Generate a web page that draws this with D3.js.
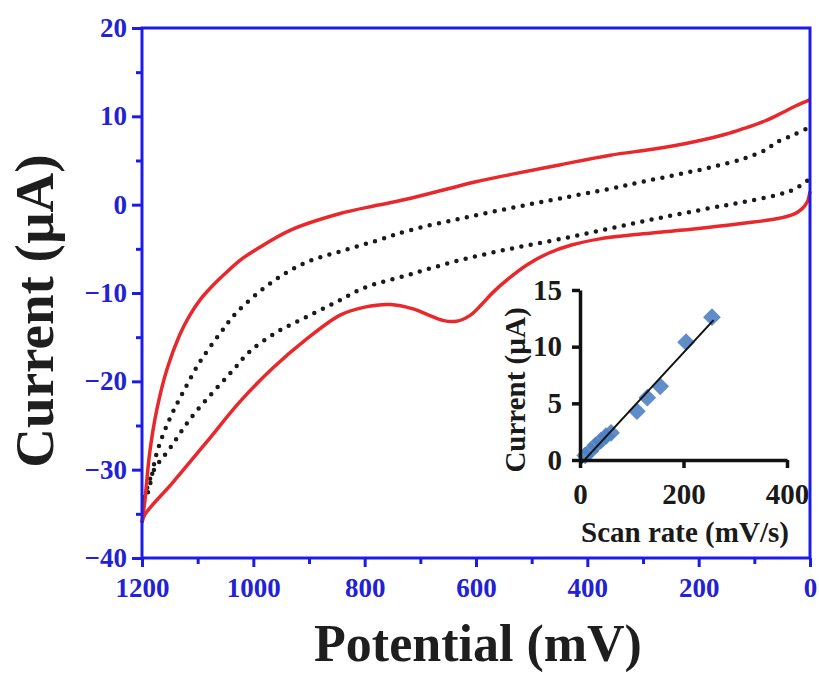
<!DOCTYPE html>
<html>
<head>
<meta charset="utf-8">
<script src="https://cdn.jsdelivr.net/npm/d3@7"></script>
<style>
  body { margin: 0; background: #fff; }
  svg text { font-family: "Liberation Serif", "Times New Roman", serif; font-weight: bold; }
</style>
</head>
<body>
<script>
// red CV, forward sweep (1200 -> 0 mV)
let redFwdE = [1200, 1195, 1186, 1173, 1155, 1132, 1114, 1096, 1075, 1054, 1024, 993, 934, 844, 780, 719, 650, 600, 539, 450, 359, 280, 210, 150, 120, 80, 50, 25, 0];
let redFwdI = [-36, -33.6, -28, -23.1, -18.6, -14.7, -12.5, -10.8, -9.3, -8.0, -6.3, -5.0, -2.9, -1.0, -0.1, 0.7, 1.8, 2.6, 3.4, 4.5, 5.6, 6.3, 7.1, 8.0, 8.6, 9.5, 10.4, 11.2, 11.9];
// red CV, reverse sweep (0 -> 1200 mV)
let redRevE = [0, 5, 15, 30, 60, 120, 200, 300, 380, 430, 470, 508, 540, 569, 590, 610, 635, 660, 685, 713, 754, 800, 844, 904, 965, 1024, 1083, 1144, 1195, 1200];
let redRevI = [1.5, 0.3, -0.5, -1.1, -1.6, -2.1, -2.7, -3.3, -3.9, -4.6, -5.5, -6.8, -8.3, -9.9, -11.3, -12.5, -13.2, -13.1, -12.5, -11.8, -11.3, -11.6, -12.5, -15.2, -18.5, -22.3, -26.8, -31.4, -35.1, -36];
// dotted CV, upper branch
let dotUpE = [1197, 1189, 1173, 1150, 1126, 1096, 1060, 1030, 965, 904, 844, 780, 719, 630, 539, 450, 359, 300, 239, 180, 120, 80, 59, 30, 0];
let dotUpI = [-33.5, -32.5, -28, -24.2, -21.2, -17.8, -14.6, -12.2, -8.7, -6.5, -5.3, -4.1, -2.9, -1.6, -0.4, 0.7, 1.8, 2.6, 3.4, 4.2, 5.2, 6.2, 7.1, 7.9, 8.8];
// dotted CV, lower branch
let dotLoE = [5, 30, 59, 120, 180, 270, 359, 450, 539, 630, 719, 800, 850, 904, 957, 1006, 1036, 1072, 1114, 1150, 1180, 1197];
let dotLoI = [2.7, 1.7, 1.1, 0.3, -0.4, -1.5, -2.7, -3.9, -5.0, -6.3, -7.9, -9.4, -11.0, -12.7, -14.4, -16.6, -18.7, -21.2, -24.3, -27.6, -30.2, -33.5];

let xTicks = [1200, 1000, 800, 600, 400, 200, 0];
let xMinor = [1100, 900, 700, 500, 300, 100];
let yTicks = [-40, -30, -20, -10, 0, 10, 20];
let yMinor = [-35, -25, -15, -5, 5, 15];

// inset: peak current vs scan rate
let scanRate = [10, 20, 30, 40, 50, 60, 110, 130, 155, 205, 255];
let peakCurrent = [0.4, 0.8, 1.3, 1.7, 2.1, 2.4, 4.3, 5.5, 6.5, 10.4, 12.6];
let insetXTicks = [0, 200, 400];
let insetYTicks = [0, 5, 10, 15];

let blue = "#1c1ce6";
let blueText = "#2222d4";

let svg = d3.select('body')
  .append('svg')
  .attr("width", 819)
  .attr("height", 675);

let x = d3.scaleLinear().domain([1200, 0]).range([142, 810]);
let y = d3.scaleLinear().domain([-40, 20]).range([558, 28]);

let line = d3.line()
  .x(d => x(d[0]))
  .y(d => y(d[1]))
  .curve(d3.curveCatmullRom.alpha(0.5));

function pairs(a, b) {
  return a.map((v, i) => [v, b[i]]);
}

// dotted curves
[pairs(dotUpE, dotUpI), pairs(dotLoE, dotLoI)].forEach(pts => {
  svg.append("path")
    .attr("d", line(pts))
    .attr("fill", "none")
    .attr("stroke", "#1a1a1a")
    .attr("stroke-width", 4.5)
    .attr("stroke-linecap", "round")
    .attr("stroke-dasharray", "0,9.5");
});

// red curves
[pairs(redFwdE, redFwdI), pairs(redRevE, redRevI)].forEach(pts => {
  svg.append("path")
    .attr("d", line(pts))
    .attr("fill", "none")
    .attr("stroke", "#e8282b")
    .attr("stroke-width", 3.5);
});

// frame
svg.append("rect")
  .attr("x", 142).attr("y", 28)
  .attr("width", 810 - 142).attr("height", 558 - 28)
  .attr("fill", "none")
  .attr("stroke", blue)
  .attr("stroke-width", 3);

// axes
let gx = svg.append("g").attr("transform", "translate(0,558)")
  .call(d3.axisBottom(x).tickValues(xTicks).tickSize(9).tickPadding(11).tickFormat(d3.format("d")));
let gxm = svg.append("g").attr("transform", "translate(0,558)")
  .call(d3.axisBottom(x).tickValues(xMinor).tickSize(6).tickFormat(""));
let gy = svg.append("g").attr("transform", "translate(142,0)")
  .call(d3.axisLeft(y).tickValues(yTicks).tickSize(10).tickPadding(5));
let gym = svg.append("g").attr("transform", "translate(142,0)")
  .call(d3.axisLeft(y).tickValues(yMinor).tickSize(6).tickFormat(""));

[gx, gxm, gy, gym].forEach(g => {
  g.select(".domain").remove();
  g.selectAll(".tick line").attr("stroke", blue).attr("stroke-width", 3);
  g.selectAll(".tick text")
    .attr("fill", blueText)
    .style("font-size", "27px");
});

// axis titles
svg.append("text")
  .attr("x", 478).attr("y", 661)
  .attr("text-anchor", "middle")
  .attr("fill", "#1e1e1e")
  .style("font-size", "52px")
  .text("Potential (mV)");

svg.append("text")
  .attr("transform", "translate(53,311) rotate(-90)")
  .attr("text-anchor", "middle")
  .attr("fill", "#1e1e1e")
  .style("font-size", "55px")
  .text("Current (\u00b5A)");

// inset
let ix = d3.scaleLinear().domain([0, 400]).range([580, 787]);
let iy = d3.scaleLinear().domain([0, 15]).range([460, 290]);

// least squares fit line
let mx = d3.mean(scanRate), my = d3.mean(peakCurrent);
let slope = d3.sum(scanRate, (v, i) => (v - mx) * (peakCurrent[i] - my)) /
  d3.sum(scanRate, v => (v - mx) * (v - mx));
let icpt = my - slope * mx;

svg.selectAll(".pt")
  .data(scanRate)
  .enter()
  .append("path")
  .attr("class", "pt")
  .attr("d", d3.symbol().type(d3.symbolDiamond2).size(200))
  .attr("transform", (d, i) => `translate(${ix(d)},${iy(peakCurrent[i])})`)
  .attr("fill", "#4f80c2")
  .attr("fill-opacity", 0.9);

let fitX = [3, 258];
svg.append("line")
  .attr("x1", ix(fitX[0])).attr("y1", iy(slope * fitX[0] + icpt))
  .attr("x2", ix(fitX[1])).attr("y2", iy(slope * fitX[1] + icpt))
  .attr("stroke", "#111")
  .attr("stroke-width", 2);

let igx = svg.append("g").attr("transform", "translate(0,460)")
  .call(d3.axisBottom(ix).tickValues(insetXTicks).tickSizeInner(8).tickSizeOuter(0).tickPadding(15));
let igy = svg.append("g").attr("transform", "translate(580,0)")
  .call(d3.axisLeft(iy).tickValues(insetYTicks).tickSizeInner(8).tickSizeOuter(0).tickPadding(10));

[igx, igy].forEach(g => {
  g.select(".domain").attr("stroke", "#111").attr("stroke-width", 3.5);
  g.selectAll(".tick line").attr("stroke", "#111").attr("stroke-width", 3.5);
  g.selectAll(".tick text")
    .attr("fill", "#1a1a1a")
    .style("font-size", "29px");
});

svg.append("text")
  .attr("x", 685).attr("y", 542)
  .attr("text-anchor", "middle")
  .attr("fill", "#1a1a1a")
  .style("font-size", "29px")
  .text("Scan rate (mV/s)");

svg.append("text")
  .attr("transform", "translate(525,390) rotate(-90)")
  .attr("text-anchor", "middle")
  .attr("fill", "#1a1a1a")
  .style("font-size", "29px")
  .text("Current (\u00b5A)");
</script>
</body>
</html>
